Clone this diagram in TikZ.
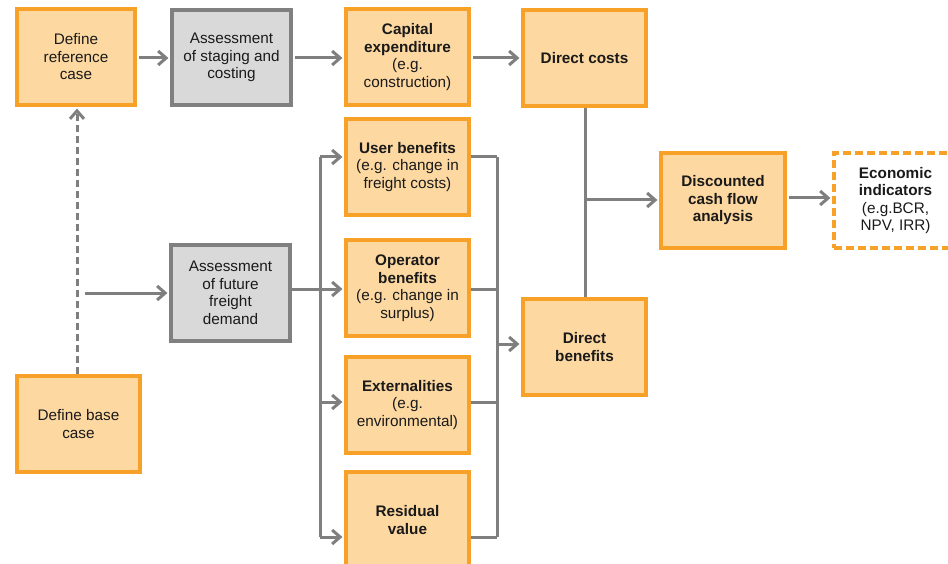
\documentclass[tikz,border=0pt]{standalone}
\usepackage{fontspec}
\setmainfont{Liberation Sans}
\usetikzlibrary{arrows.meta}
\definecolor{orbd}{HTML}{F7A128}
\definecolor{orfill}{HTML}{FDD8A1}
\definecolor{grbd}{HTML}{808080}
\definecolor{grfill}{HTML}{D9D9D9}
\definecolor{conncol}{HTML}{7F7F7F}
\definecolor{txt}{HTML}{1A1A1A}
\tikzset{
  box/.style={draw, line width=3.2pt, inner sep=0pt, align=center, text=txt,
    font=\fontsize{15.3}{17.5}\selectfont, minimum width=#1, minimum height=96pt},
  obox/.style={box=#1, draw=orbd, fill=orfill},
  gbox/.style={box=#1, draw=grbd, fill=grfill},
  dbox/.style={box=#1, draw=orbd, fill=white, dash pattern=on 8pt off 4pt},
  conn/.style={draw=conncol, line width=3pt, -{Straight Barb[length=8pt,width=14pt,line width=3pt]}},
  plain/.style={draw=conncol, line width=3pt},
  dashc/.style={conn, dash pattern=on 7pt off 4pt}
}
\begin{document}
\begin{tikzpicture}[x=1pt,y=-1pt]
\clip (0,0) rectangle (948,564);
\fill[white] (0,0) rectangle (948,564);
% nodes
\node[obox=118pt] (ref) at (76,57) {Define\\reference\\case};
\node[gbox=119pt, minimum height=95pt] (stag) at (231.5,57.5) {Assessment\\of staging and\\costing};
\node[obox=123pt] (capex) at (407.5,57) {\textbf{Capital}\\\textbf{expenditure}\\(e.g.\\construction)};
\node[obox=123pt] (dcost) at (584.5,58) {\textbf{Direct costs}};
\node[obox=123pt] (user) at (407.5,167) {\textbf{User benefits}\\(e.g. change in\\freight costs)};
\node[gbox=119pt] (freight) at (230.5,293) {Assessment\\of future\\freight\\demand};
\node[obox=123pt] (oper) at (407.5,288) {\textbf{Operator}\\\textbf{benefits}\\(e.g. change in\\surplus)};
\node[obox=123pt] (ext) at (407.5,405) {\textbf{Externalities}\\(e.g.\\environmental)};
\node[obox=123pt] (resid) at (407.5,520) {\textbf{Residual}\\\textbf{value}};
\node[obox=123pt] (dben) at (584.5,347) {\textbf{Direct}\\\textbf{benefits}};
\node[obox=124pt, minimum height=95pt] (dcf) at (723,200.5) {\textbf{Discounted}\\\textbf{cash flow}\\\textbf{analysis}};
\node[dbox=123pt, minimum height=95pt] (econ) at (895.5,200.5) {\textbf{Economic}\\\textbf{indicators}\\(e.g.BCR,\\NPV, IRR)};
\node[obox=123pt] (base) at (78.5,424) {Define base\\case};
% coordinates
\coordinate (fin) at (85,293);
\coordinate (lbt) at (320,157);
\coordinate (lbb) at (320,537);
\coordinate (rbt) at (497,157);
\coordinate (rbb) at (497,537);
\coordinate (rbm) at (497,344);
\coordinate (cm) at (585,200);
% top row
\draw[conn, shorten <=2pt, shorten >=2pt] (ref.east |- 0,58) -- (stag.west |- 0,58);
\draw[conn, shorten <=2pt, shorten >=2pt] (stag.east |- 0,58) -- (capex.west |- 0,58);
\draw[conn, shorten <=2pt, shorten >=2pt] (capex.east |- 0,58) -- (dcost.west |- 0,58);
% dashed link
\draw[dashc, shorten >=2pt] (base.north -| 77,0) -- (ref.south -| 77,0);
\draw[conn, shorten >=2pt] (fin) -- (fin -| freight.west);
% freight to operator
\draw[conn, shorten >=2pt] (freight.east |- 0,289) -- (oper.west |- 0,289);
% left bus
\draw[plain] (lbt) -- (lbb);
\draw[conn, shorten >=2pt] (lbt) -- (lbt -| user.west);
\draw[conn, shorten >=2pt] (320,402) -- (ext.west |- 0,402);
\draw[conn, shorten >=2pt] (lbb) -- (lbb -| resid.west);
% right bus
\draw[plain] (rbt) -- (rbb);
\draw[plain] (user.east |- rbt) -- (rbt);
\draw[plain] (oper.east |- 0,289) -- (497,289);
\draw[plain] (ext.east |- 0,402) -- (497,402);
\draw[plain] (resid.east |- rbb) -- (rbb);
\draw[conn, shorten >=2pt] (rbm) -- (rbm -| dben.west);
% costs/benefits to dcf
\draw[plain] (dcost.south -| cm) -- (dben.north -| cm);
\draw[conn, shorten >=2pt] (cm) -- (cm -| dcf.west);
\draw[conn, shorten <=2pt, shorten >=2pt] (dcf.east |- 0,198) -- (econ.west |- 0,198);
\end{tikzpicture}
\end{document}
